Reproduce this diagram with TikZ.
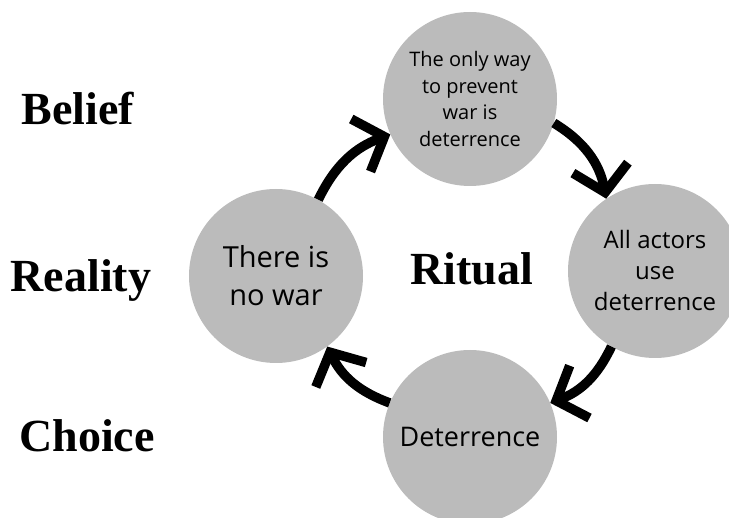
\documentclass[tikz,border=0pt]{standalone}
\usepackage{fontspec}
\setmainfont{Liberation Serif}
\newfontfamily\circfont{Open Sans}
\usetikzlibrary{arrows.meta}
\definecolor{discgray}{RGB}{187,187,187}
\begin{document}
\begin{tikzpicture}[x=1pt,y=1pt,
  disc/.style={circle, fill=discgray, minimum size=174pt, inner sep=0pt,
    align=center, text=black},
  cyc/.style={line width=9.5pt, -{Straight Barb[length=25pt,width=56pt]}},
  tag/.style={font=\fontsize{46}{50}\selectfont\bfseries, anchor=base}
]
\useasboundingbox (0,0) rectangle (729,-518);
\clip (0,0) rectangle (729,-518);

% the four stages of the cycle
\node[disc, font=\circfont\fontsize{20}{26.7}\selectfont] (onlyway) at (470,-99)
  {The only way\\to prevent\\war is\\deterrence};
\node[disc, font=\circfont\fontsize{24}{31}\selectfont] (allactors) at (655,-271)
  {All actors\\use\\deterrence};
\node[disc, font=\circfont\fontsize{27}{35}\selectfont] (deter) at (470,-437)
  {Deterrence};
\node[disc, font=\circfont\fontsize{29}{38}\selectfont] (nowar) at (276,-276)
  {There is\\no war};

% clockwise arrows between the stages
\draw[cyc] (nowar.61) to[bend left=22] (onlyway.204);
\draw[cyc] (onlyway.344) to[bend left=24] (allactors.124);
\draw[cyc] (allactors.240) to[bend left=22] (deter.23);
\draw[cyc] (deter.157) to[bend left=22] (nowar.306);

% labels
\node[tag] (ritual) at (472,-285) {Ritual};
\node[tag] (belief) at (78,-125) {Belief};
\node[tag] (reality) at (81,-292) {Reality};
\node[tag] (choice) at (87,-452) {Choice};
\end{tikzpicture}
\end{document}
